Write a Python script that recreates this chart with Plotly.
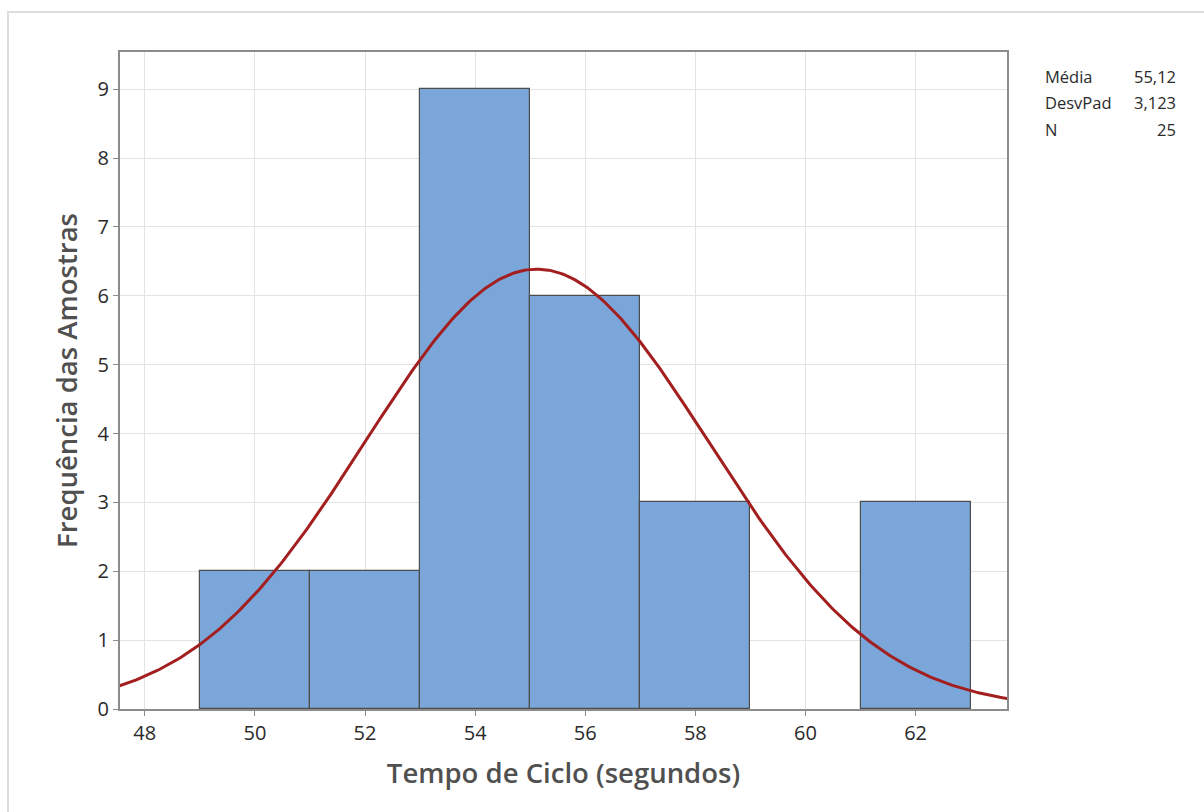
import numpy as np
import plotly.graph_objects as go

bin_centers = [50, 52, 54, 56, 58, 60, 62]
counts = [2, 2, 9, 6, 3, 0, 3]
bin_width = 2
mean = 55.12
stdev = 3.123
n = 25
stat_labels = ["Média", "DesvPad", "N"]
stat_values = ["55,12", "3,123", "25"]

W, H = 1204, 812
L, R, T, B = 120, 197, 52, 103
pw, ph = W - L - R, H - T - B

font_family = "Open Sans, Noto Sans, sans-serif"

fig = go.Figure()
fig.add_trace(go.Bar(
    x=bin_centers, y=counts, width=bin_width,
    marker=dict(color="#7BA6D9",
                line=dict(color=["#4D4D4D" if c > 0 else "rgba(0,0,0,0)" for c in counts],
                          width=1.2)),
    hoverinfo="x+y", showlegend=False,
))
xs = np.linspace(47.0, 64.5, 400)
ys = n * bin_width * np.exp(-0.5 * ((xs - mean) / stdev) ** 2) / (stdev * np.sqrt(2 * np.pi))
fig.add_trace(go.Scatter(x=xs, y=ys, mode="lines",
                         line=dict(color="#A31F1F", width=3), showlegend=False))

axis_common = dict(
    showline=True, linecolor="#8C8C8C", linewidth=2, mirror=True,
    showgrid=True, gridcolor="#E3E3E3", gridwidth=1,
    ticks="outside", ticklen=5, tickcolor="#8C8C8C", tickwidth=1,
    tickfont=dict(family=font_family, size=20, color="#2A2A2A"),
    zeroline=False,
)
fig.update_layout(
    width=W, height=H,
    margin=dict(l=L, r=R, t=T, b=B),
    paper_bgcolor="white", plot_bgcolor="white",
    bargap=0,
    xaxis=dict(range=[47.55, 63.66], tickvals=[48, 50, 52, 54, 56, 58, 60, 62],
               title=dict(text="Tempo de Ciclo (segundos)", standoff=19,
                          font=dict(family=font_family, size=27.5, color="#505050", weight=600)),
               **axis_common),
    yaxis=dict(range=[0, 9.54], tickvals=list(range(10)),
               title=dict(text="Frequência das Amostras", standoff=12,
                          font=dict(family=font_family, size=27.5, color="#505050", weight=600)),
               **axis_common),
    font=dict(family=font_family),
)

def px_x(p):
    return (p - L) / pw

def px_y(p):
    return 1 - (p - T) / ph

# outer frame
fig.add_shape(type="rect", xref="paper", yref="paper",
              x0=px_x(8), x1=px_x(1210), y0=px_y(12), y1=px_y(830),
              line=dict(color="#DDDDDD", width=2), fillcolor="rgba(0,0,0,0)", layer="below")

rows_y = [76, 102, 129]
for lab, val, yy in zip(stat_labels, stat_values, rows_y):
    fig.add_annotation(x=px_x(1043), y=px_y(yy), xref="paper", yref="paper",
                       text=lab, showarrow=False, xanchor="left", yanchor="middle",
                       font=dict(family=font_family, size=16.5, color="#2A2A2A"))
    fig.add_annotation(x=px_x(1178), y=px_y(yy), xref="paper", yref="paper",
                       text=val, showarrow=False, xanchor="right", yanchor="middle",
                       font=dict(family=font_family, size=16.5, color="#2A2A2A"))

fig.write_html("out.html")
